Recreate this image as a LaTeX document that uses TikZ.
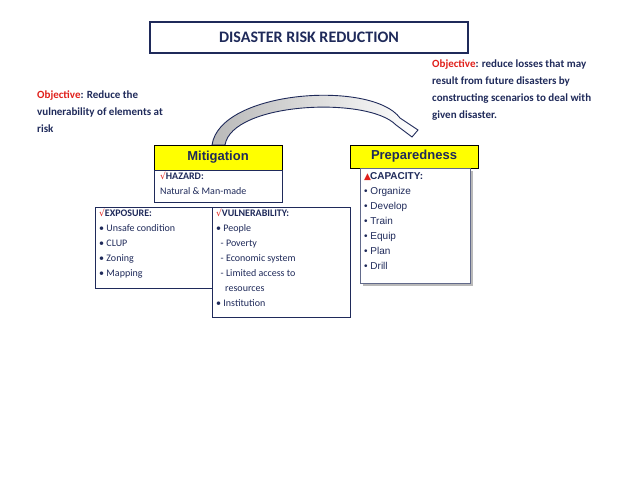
\documentclass[tikz,border=0pt]{standalone}
\usepackage{fontspec}
\setmainfont{Carlito}
\newfontfamily\arl{Liberation Sans}
\newfontfamily\djv{DejaVu Sans}
\definecolor{navy}{HTML}{1F2A5A}
\definecolor{ored}{HTML}{E0201B}
\definecolor{yel}{HTML}{FFFF00}
\begin{document}
\begin{tikzpicture}[x=1pt,y=-1pt,
  bx/.style={draw=navy,line width=0.9pt,fill=white},
  txt/.style={anchor=north west,align=left,inner sep=0pt,text=navy,font=\fontsize{10}{15}\selectfont}]
\useasboundingbox (0,0) rectangle (638,479);
% title
\node[draw=navy,line width=1.2pt,minimum width=318pt,minimum height=31pt,font=\fontsize{16}{18}\selectfont\bfseries,text=navy] (title) at (309,37.5) {DISASTER RISK REDUCTION};
% arc
\path[draw=navy,line width=0.9pt,left color=gray!55,right color=white] (212,145) .. controls (220,90) and (372,80) .. (400,118) -- (418,130) -- (412,137) -- (396,125) .. controls (368,96) and (232,102) .. (225,145) -- cycle;
% objectives
\node[txt,font=\fontsize{11}{17}\selectfont\bfseries] (objl) at (37,91) {\textcolor{ored}{Objective}: Reduce the\\vulnerability of elements at\\risk};
\node[txt,font=\fontsize{11}{17}\selectfont\bfseries] (objr) at (432,60) {\textcolor{ored}{Objective}: reduce losses that may\\result from future disasters by\\constructing scenarios to  deal with\\given disaster.};
% mitigation
\node[draw=black,fill=yel,minimum width=128pt,minimum height=25pt,font=\arl\bfseries\fontsize{13}{15}\selectfont,text=navy] (mit) at (218,157.5) {Mitigation};
\node[draw=black,fill=yel,minimum width=128pt,minimum height=23pt,font=\arl\bfseries\fontsize{13}{15}\selectfont,text=navy] (prep) at (414,156.5) {Preparedness};
\draw[bx] (154,170) rectangle (282,202);
\node[txt] (haz) at (160,172) {\textcolor{ored}{\djv\fontsize{9}{9}\selectfont √}\textbf{HAZARD:}\\Natural \& Man-made};
% capacity with shadow
\fill[gray!55] (363,171) rectangle (473,286);
\draw[draw=navy!70,line width=0.6pt,fill=white] (360,168) rectangle (470,283);
\node[txt,font=\arl\fontsize{10}{15}\selectfont] (cap) at (364,172) {\textcolor{ored}{\djv\fontsize{9}{9}\selectfont ▲}\hspace{-1pt}\textbf{CAPACITY:}\\\textbullet\ Organize\\\textbullet\ Develop\\\textbullet\ Train\\\textbullet\ Equip\\\textbullet\ Plan\\\textbullet\ Drill};
% exposure & vulnerability
\draw[bx] (95,207) rectangle (212,288);
\node[txt] (exp) at (99,209) {\textcolor{ored}{\djv\fontsize{9}{9}\selectfont √}\textbf{EXPOSURE:}\\\textbullet\ Unsafe condition\\\textbullet\ CLUP\\\textbullet\ Zoning\\\textbullet\ Mapping};
\draw[bx] (212,207) rectangle (350,317);
\node[txt] (vul) at (216,209) {\textcolor{ored}{\djv\fontsize{9}{9}\selectfont √}\textbf{VULNERABILITY:}\\\textbullet\ People\\\ \ - Poverty\\\ \ - Economic system\\\ \ - Limited access to\\\ \ \ \ resources\\\textbullet\ Institution};
\end{tikzpicture}
\end{document}
